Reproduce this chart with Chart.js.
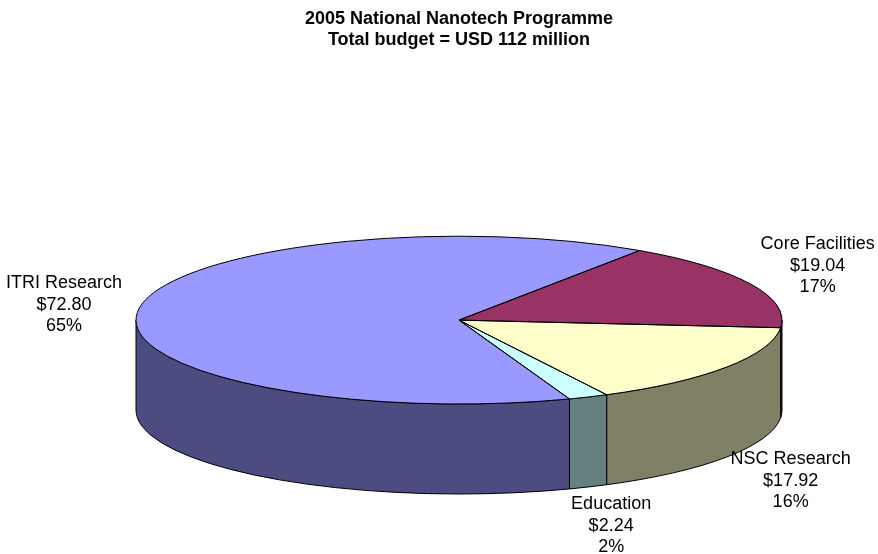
<!DOCTYPE html>
<html>
<head>
    <title>2005 National Nanotech Programme</title>
    <script src="https://cdn.jsdelivr.net/npm/chart.js"></script>
    <style>
        body { margin: 0; background: #fff; }
        #wrap { width: 878px; height: 554px; }
    </style>
</head>
<body>
    <div id="wrap"><canvas id="pieChart"></canvas></div>

    <script>
        const categories = ["ITRI Research", "Core Facilities", "NSC Research", "Education"];
        const budget = [72.80, 19.04, 17.92, 2.24];
        const titleLines = ["2005 National Nanotech Programme", "Total budget = USD 112 million"];

        const topColors = ["#9999FF", "#993366", "#FFFFCC", "#CCFFFF"];
        const sideColors = ["#4C4C80", "#4D1A33", "#808066", "#668080"];
        const depth = 90;
        const fontFamily = "'Liberation Sans', Arial, sans-serif";

        // ellipse of the top face, taken from the chart area the library lays out
        function ellipseOf(chart) {
            let a = chart.chartArea;
            let rx = (a.right - a.left) / 2;
            let ry = (a.bottom - a.top - depth) / 2;
            return { cx: (a.left + a.right) / 2, cy: a.top + ry, rx: rx, ry: ry };
        }

        const pie3d = {
            id: "pie3d",
            beforeDatasetsDraw(chart) {
                let ctx = chart.ctx;
                let e = ellipseOf(chart);
                let arcs = chart.getDatasetMeta(0).data;

                // side walls (front half only)
                ctx.save();
                ctx.lineWidth = 1;
                ctx.strokeStyle = "#000";
                arcs.forEach((arc, i) => {
                    for (let k = -1; k <= 2; k++) {
                        let s = Math.max(arc.startAngle, 2 * Math.PI * k);
                        let t = Math.min(arc.endAngle, 2 * Math.PI * k + Math.PI);
                        if (t <= s) continue;
                        ctx.beginPath();
                        ctx.ellipse(e.cx, e.cy, e.rx, e.ry, 0, s, t, false);
                        ctx.ellipse(e.cx, e.cy + depth, e.rx, e.ry, 0, t, s, true);
                        ctx.closePath();
                        ctx.fillStyle = sideColors[i];
                        ctx.fill();
                        ctx.stroke();
                    }
                });
                ctx.restore();

                // squash the flat pie into the tilted top face
                let first = arcs[0];
                ctx.save();
                ctx.translate(e.cx, e.cy);
                ctx.scale(e.rx / first.outerRadius, e.ry / first.outerRadius);
                ctx.translate(-first.x, -first.y);
            },
            afterDatasetsDraw(chart) {
                let ctx = chart.ctx;
                ctx.restore();
                let e = ellipseOf(chart);
                let arcs = chart.getDatasetMeta(0).data;
                let total = budget.reduce((a, b) => a + b, 0);

                ctx.save();
                ctx.lineWidth = 1;
                ctx.strokeStyle = "#000";
                arcs.forEach(arc => {
                    ctx.beginPath();
                    ctx.moveTo(e.cx, e.cy);
                    ctx.ellipse(e.cx, e.cy, e.rx, e.ry, 0, arc.startAngle, arc.endAngle, false);
                    ctx.closePath();
                    ctx.stroke();
                });

                // data labels outside the pie
                ctx.font = "18px " + fontFamily;
                ctx.fillStyle = "#000";
                ctx.textAlign = "center";
                ctx.textBaseline = "middle";
                let lh = 21.5;
                arcs.forEach((arc, i) => {
                    let mid = (arc.startAngle + arc.endAngle) / 2;
                    let c = Math.cos(mid), s = Math.sin(mid);
                    let px = e.cx + e.rx * c;
                    let py = e.cy + e.ry * s + (s > 0 ? depth : 0);
                    let lines = [categories[i], "$" + budget[i].toFixed(2), Math.round(budget[i] / total * 100) + "%"];
                    let w = Math.max(...lines.map(l => ctx.measureText(l).width));
                    let h = lines.length * lh;
                    let x = px + c * (w / 2 + 17);
                    let y = py + s * (h / 2 + 10);
                    lines.forEach((l, j) => ctx.fillText(l, x, y + (j - 1) * lh));
                });
                ctx.restore();
            }
        };

        let ctx = document.getElementById("pieChart").getContext("2d");
        new Chart(ctx, {
            type: "pie",
            data: {
                labels: categories,
                datasets: [{
                    data: budget,
                    backgroundColor: topColors,
                    borderWidth: 0
                }]
            },
            options: {
                responsive: true,
                maintainAspectRatio: false,
                animation: false,
                events: [],
                rotation: 160,
                layout: { padding: { left: 136, right: 96, top: 0, bottom: 60 } },
                plugins: {
                    legend: { display: false },
                    tooltip: { enabled: false },
                    title: {
                        display: true,
                        text: titleLines,
                        color: "#000",
                        font: { family: fontFamily, size: 18, weight: "bold", lineHeight: 1.2 },
                        padding: { top: 8, bottom: 185 }
                    }
                }
            },
            plugins: [pie3d]
        });
    </script>
</body>
</html>
